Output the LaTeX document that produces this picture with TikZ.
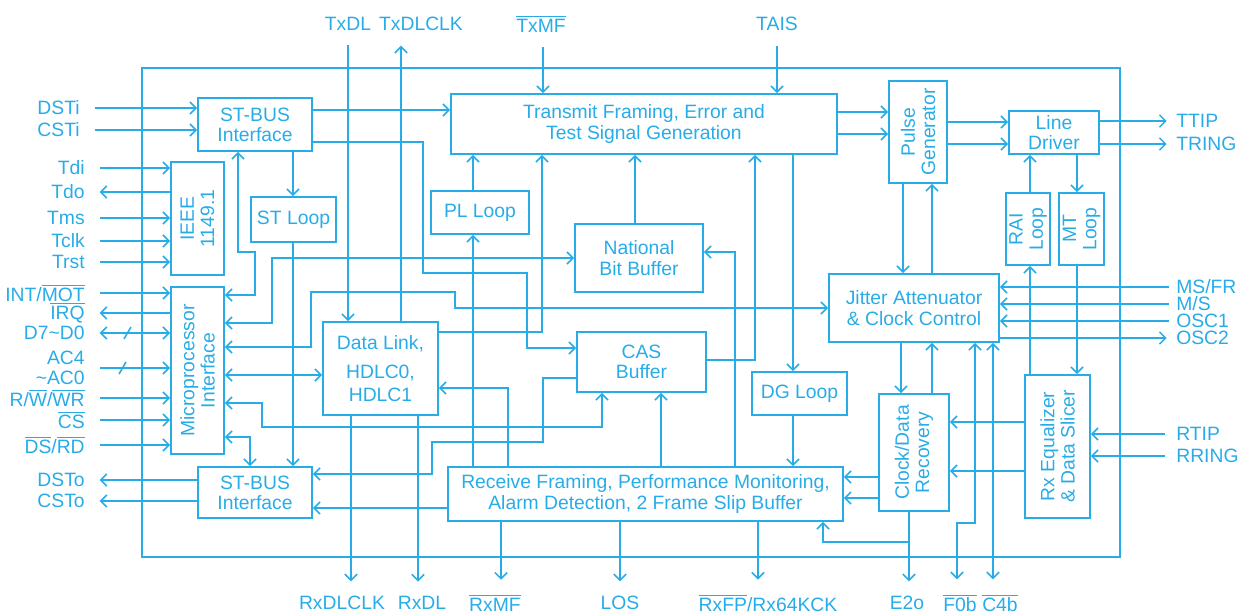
\documentclass[tikz,border=0pt]{standalone}
\usepackage{fontspec}
\setmainfont{Liberation Sans}
\usetikzlibrary{arrows.meta, fit}

\definecolor{chipblue}{RGB}{40,172,232}
\newcommand{\ovl}[1]{$\overline{\mbox{#1}}$}

\tikzset{
  >={Straight Barb[length=3.5pt,width=7pt]},
  blk/.style={draw, inner sep=0pt},
  pinlbl/.style={inner sep=2pt, align=right},
  lbl/.style={inner sep=2pt, align=center}
}

\begin{document}
\begin{tikzpicture}[x=0.02cm, y=-0.02cm, line width=0.9pt, draw=chipblue, text=chipblue,
    font=\fontsize{11}{11.5}\selectfont]
  \useasboundingbox (0,0) rectangle (1244,614);
  % chip outline
  \draw (142,68) rectangle (1120,557);

  % blocks
  \node[blk, fit={(198,98)(312,151)}] (stbt) {};
  \node[blk, fit={(171,162)(224,275)}] (ieee) {};
  \node[blk, fit={(251,197)(336,242)}] (stloop) {};
  \node[blk, fit={(171,287)(224,454)}] (micro) {};
  \node[blk, fit={(198,467)(312,518)}] (stbb) {};
  \node[blk, fit={(323,322)(438,415)}] (dlink) {};
  \node[blk, fit={(451,94)(837,154)}] (tx) {};
  \node[blk, fit={(431,191)(529,234)}] (plloop) {};
  \node[blk, fit={(575,224)(703,292)}] (nbb) {};
  \node[blk, fit={(577,332)(706,392)}] (cas) {};
  \node[blk, fit={(752,372)(847,415)}] (dgloop) {};
  \node[blk, fit={(448,467)(843,521)}] (rx) {};
  \node[blk, fit={(889,81)(947,183)}] (pulse) {};
  \node[blk, fit={(1009,111)(1099,154)}] (ldrv) {};
  \node[blk, fit={(1006,193)(1050,265)}] (rai) {};
  \node[blk, fit={(1059,193)(1104,265)}] (mt) {};
  \node[blk, fit={(829,274)(999,342)}] (jit) {};
  \node[blk, fit={(879,394)(949,511)}] (cdr) {};
  \node[blk, fit={(1025,375)(1090,518)}] (rxeq) {};
  % block texts
  \foreach \n/\t in {stbt/{ST-BUS\\Interface}, stloop/{ST Loop}, stbb/{ST-BUS\\Interface},
      dlink/{Data Link,\\[5pt]HDLC0,\\[2pt]HDLC1}, tx/{Transmit Framing, Error and\\Test Signal Generation},
      plloop/{PL Loop}, nbb/{National\\Bit Buffer}, cas/{CAS\\Buffer}, dgloop/{DG Loop},
      rx/{Receive Framing, Performance Monitoring,\\Alarm Detection, 2 Frame Slip Buffer},
      ldrv/{Line\\Driver}, jit/{Jitter Attenuator\\\& Clock Control}}
    \node[lbl] (\n-t) at (\n.center) {\t};
  \foreach \n/\t in {ieee/{IEEE\\1149.1}, micro/{Microprocessor\\Interface},
      pulse/{Pulse\\Generator}, rai/{RAI\\Loop}, mt/{MT\\Loop},
      cdr/{Clock/Data\\Recovery}, rxeq/{Rx Equalizer\\\& Data Slicer}}
    \node[lbl, rotate=90] (\n-t) at (\n.center) {\t};

  % pins, left
  \node[pinlbl, anchor=east] (dsti) at (84,108) {DSTi};
  \node[pinlbl, anchor=east] (csti) at (84,130) {CSTi};
  \foreach \n/\y/\t in {tdi/168/Tdi, tdo/192/Tdo, tms/218/Tms, tclk/241/Tclk, trst/262/Trst,
      irq/313/{\ovl{IRQ}}, cs/420/{\ovl{CS}}, dsto/480/DSTo, csto/501/CSTo}
    \node[pinlbl, anchor=east] (\n) at (89,\y) {\t};
  \node[pinlbl, anchor=east] (intm) at (89,293) {INT/\ovl{MOT}};
  \node[pinlbl, anchor=east] (dbus) at (89,333) {D7\textasciitilde D0};
  \node[pinlbl, anchor=east] (abus) at (89,368) {AC4\\\textasciitilde AC0};
  \node[pinlbl, anchor=east] (rw) at (89,398) {R/\ovl{W}/\ovl{WR}};
  \node[pinlbl, anchor=east] (ds) at (89,445) {\ovl{DS}/\ovl{RD}};

  % pins, top
  \node[lbl] (txdl) at (348,24) {TxDL};
  \node[lbl] (txclk) at (421,24) {TxDLCLK};
  \node[lbl] (txmf) at (541,24) {\ovl{TxMF}};
  \node[lbl] (tais) at (777,24) {TAIS};

  % pins, right
  \foreach \n/\y/\t in {ttip/121/TTIP, tring/144/TRING, msfr/287/{MS/FR}, ms/304/{M/S},
      osc1/321/OSC1, osc2/338/OSC2, rtip/434/RTIP, rring/456/RRING}
    \node[pinlbl, anchor=west] (\n) at (1172,\y) {\t};

  % pins, bottom
  \foreach \n/\x/\t in {rxdlclk/342/RxDLCLK, rxdl/422/RxDL, rxmf/495/{\ovl{RxMF}}, los/620/LOS,
      rxfp/768/{\ovl{RxFP}/Rx64KCK}, e2o/907/E2o, f0b/960/{\ovl{F0b}}, c4b/1000/{\ovl{C4b}}}
    \node[lbl] (\n) at (\x,603) {\t};

  % left pin lines
  \foreach \n in {dsti,csti}
    \draw[->, shorten <=6pt] (\n.east) -- (stbt.west |- \n.east);
  \foreach \n in {tdi,tms,tclk,trst}
    \draw[->, shorten <=6pt] (\n.east) -- (ieee.west |- \n.east);
  \draw[<-, shorten <=6pt] (tdo.east) -- (ieee.west |- tdo.east);
  \foreach \n in {intm,abus,rw,cs,ds}
    \draw[->, shorten <=6pt] (\n.east) -- (micro.west |- \n.east);
  \draw[<-, shorten <=6pt] (irq.east) -- (micro.west |- irq.east);
  \draw[<->, shorten <=6pt] (dbus.east) -- (micro.west |- dbus.east);
  \draw (124,339) -- (131,327);
  \draw (119,374) -- (126,362);
  \foreach \n in {dsto,csto}
    \draw[<-, shorten <=6pt] (\n.east) -- (stbb.west |- \n.east);

  % top pin lines
  \draw[->, shorten <=6pt] (txdl.south) -- (txdl.south |- dlink.north);
  \draw[->, shorten >=6pt] (401,0 |- dlink.north) -- (401,0 |- txclk.south);
  \draw[->, shorten <=6pt] (543,0 |- txmf.south) -- (543,0 |- tx.north);
  \draw[->, shorten <=6pt] (tais.south) -- (tais.south |- tx.north);

  % right pin lines
  \foreach \n in {ttip,tring}
    \draw[->, shorten >=3pt] (ldrv.east |- \n.west) -- (\n.west);
  \foreach \n in {msfr,ms,osc1}
    \draw[<-, shorten >=2pt] (jit.east |- \n.west) -- (\n.west);
  \draw[->, shorten >=3pt] (jit.east |- osc2.west) -- (osc2.west);
  \foreach \n in {rtip,rring}
    \draw[<-, shorten >=4pt] (rxeq.east |- \n.west) -- (\n.west);

  % bottom pin lines
  \draw[->, shorten >=6pt] (351,0 |- dlink.south) -- (351,0 |- rxdlclk.north);
  \draw[->, shorten >=6pt] (418,0 |- dlink.south) -- (418,0 |- rxdl.north);
  \draw[->, shorten >=6pt] (501,0 |- rx.south) -- (501,0 |- rxmf.north);
  \draw[->, shorten >=6pt] (los.north |- rx.south) -- (los.north);
  \draw[->, shorten >=6pt] (758,0 |- rx.south) -- (758,0 |- rxfp.north);
  \draw[->, shorten >=6pt] (909,0 |- cdr.south) -- (909,0 |- e2o.north);
  \coordinate (e2j) at (909,542);
  \draw[->] (e2j) -- (823,542) -- (823,0 |- rx.south);
  \draw[<->, shorten >=6pt] (975,0 |- jit.south) -- (975,523) -- (957,523) -- (957,0 |- f0b.north);
  \draw[<->, shorten >=6pt] (993,0 |- jit.south) -- (993,0 |- c4b.north);

  % transmit side
  \draw[->] (stbt.east |- 0,110) -- (tx.west |- 0,110);
  \draw[->] (stbt.east |- 0,142) -- (423,142) -- (423,273) -- (527,273) -- (527,348) -- (cas.west |- 0,348);
  \draw[->] (293,0 |- stbt.south) -- (293,0 |- stloop.north);
  \draw[->] (293,0 |- stloop.south) -- (293,0 |- stbb.north);
  \draw[->] (dlink.east |- 0,332) -- (542,332) -- (542,0 |- tx.south);
  \draw[->] (473,0 |- plloop.north) -- (473,0 |- tx.south);
  \draw[->] (635,0 |- nbb.north) -- (635,0 |- tx.south);
  \draw[->] (cas.east |- 0,360) -- (755,360) -- (755,0 |- tx.south);
  \draw[->] (793,0 |- tx.south) -- (793,0 |- dgloop.north);
  \foreach \y in {112,134}
    \draw[->] (tx.east |- 0,\y) -- (pulse.west |- 0,\y);
  \foreach \y in {122,144}
    \draw[->] (pulse.east |- 0,\y) -- (ldrv.west |- 0,\y);
  \draw[->] (903,0 |- pulse.south) -- (903,0 |- jit.north);
  \draw[->] (932,0 |- jit.north) -- (932,0 |- pulse.south);
  \draw[->] (1030,0 |- rai.north) -- (1030,0 |- ldrv.south);
  \draw[->] (1077,0 |- ldrv.south) -- (1077,0 |- mt.north);

  % microprocessor links
  \draw[<->] (238,0 |- stbt.south) -- (238,252) -- (255,252) -- (255,295) -- (micro.east |- 0,295);
  \draw[<->] (micro.east |- 0,323) -- (272,323) -- (272,258) -- (nbb.west |- 0,258);
  \draw[<->] (micro.east |- 0,347) -- (311,347) -- (311,292) -- (455,292) -- (455,308) -- (jit.west |- 0,308);
  \draw[<->] (micro.east |- 0,375) -- (dlink.west |- 0,375);
  \draw[<->] (micro.east |- 0,403) -- (262,403) -- (262,427) -- (602,427) -- (602,0 |- cas.south);
  \draw[<->] (micro.east |- 0,437) -- (250,437) -- (250,0 |- stbb.north);

  % receive side
  \draw[->] (508,0 |- rx.north) -- (508,388) -- (dlink.east |- 0,388);
  \draw[->] (473,0 |- rx.north) -- (473,0 |- plloop.south);
  \draw[->] (735,0 |- rx.north) -- (735,252) -- (nbb.east |- 0,252);
  \draw[->] (661,0 |- rx.north) -- (661,0 |- cas.south);
  \draw[->] (cas.west |- 0,378) -- (543,378) -- (543,442) -- (432,442) -- (432,474) -- (stbb.east |- 0,474);
  \draw[->] (rx.west |- 0,508) -- (stbb.east |- 0,508);
  \draw[->] (793,0 |- dgloop.south) -- (793,0 |- rx.north);
  \draw[->] (901,0 |- jit.south) -- (901,0 |- cdr.north);
  \draw[->] (932,0 |- cdr.north) -- (932,0 |- jit.south);
  \foreach \y in {422,471}
    \draw[->] (rxeq.west |- 0,\y) -- (cdr.east |- 0,\y);
  \foreach \y in {477,498}
    \draw[->] (cdr.west |- 0,\y) -- (rx.east |- 0,\y);
  \draw[->] (1030,0 |- rxeq.north) -- (1030,0 |- rai.south);
  \draw[->] (1077,0 |- mt.south) -- (1077,0 |- rxeq.north);
\end{tikzpicture}
\end{document}
